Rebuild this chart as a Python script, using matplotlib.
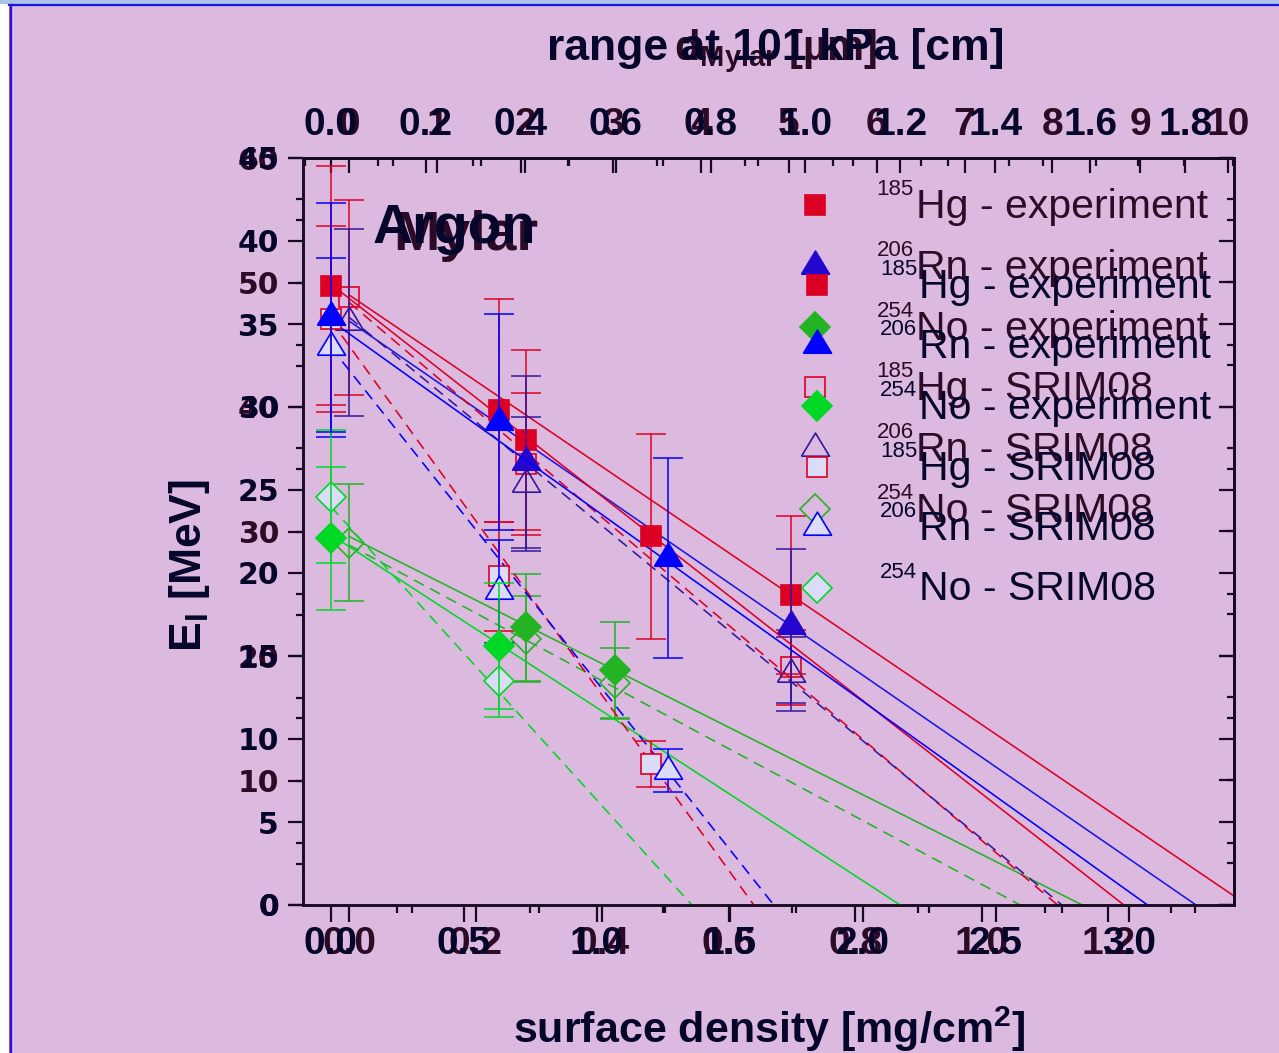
import matplotlib.pyplot as plt
from matplotlib.lines import Line2D
from matplotlib.patches import Rectangle
from matplotlib.ticker import MultipleLocator

plt.rcParams['mathtext.fontset'] = 'custom'
plt.rcParams['mathtext.rm'] = 'Liberation Sans'
plt.rcParams['mathtext.bf'] = 'Liberation Sans:bold'

# unit conversions for the top axes
ARGON_MG_PER_CM = 1.784   # argon at 101 kPa: mg/cm^2 per cm
MYLAR_MG_PER_UM = 0.139   # mylar: mg/cm^2 per micrometre

# ---- argon absorber (surface density in mg/cm^2, energy in MeV) ----
ar_hg_x = [0.0, 0.633, 1.203]
ar_hg_e = [37.3, 29.8, 22.2]
ar_hg_err = [7.2, 6.7, 6.2]
ar_rn_x = [0.0, 0.633, 1.266]
ar_rn_e = [35.4, 29.1, 20.9]
ar_rn_err = [6.9, 6.5, 6.0]
ar_no_x = [0.0, 0.633]
ar_no_e = [22.1, 15.6]
ar_no_err = [4.3, 3.8]

ar_hg_srim_e = [35.3, 19.8, 8.5]
ar_hg_srim_err = [5.6, 3.3, 1.4]
ar_rn_srim_e = [33.6, 18.9, 8.1]
ar_rn_srim_err = [5.4, 3.1, 1.3]
ar_no_srim_e = [24.6, 13.5]
ar_no_srim_err = [4.0, 2.2]

# linear fits: (x start, x end), (E start, E end)
ar_fit_hg = ([0.0, 2.981], [37.4, 0.0])
ar_fit_rn = ([0.0, 3.07], [35.2, 0.0])
ar_fit_no = ([0.0, 2.14], [22.3, 0.0])
ar_srim_fit_hg = ([0.0, 1.59], [35.2, 0.0])
ar_srim_fit_rn = ([0.0, 1.665], [33.6, 0.0])
ar_srim_fit_no = ([0.0, 1.357], [24.0, 0.0])

# ---- mylar absorber ----
my_hg_x = [0.279, 0.698]
my_hg_e = [37.35, 24.9]
my_hg_err = [7.2, 6.35]
my_rn_x = [0.279, 0.698]
my_rn_e = [35.6, 22.4]
my_rn_err = [6.9, 6.2]
my_no_x = [0.279, 0.42]
my_no_e = [22.3, 18.85]
my_no_err = [4.3, 3.85]

my_srim_x = [0.0, 0.279, 0.698]
my_hg_srim_e = [48.8, 35.4, 19.1]
my_hg_srim_err = [7.8, 5.7, 3.0]
my_rn_srim_e = [46.8, 33.8, 18.55]
my_rn_srim_err = [7.5, 5.4, 3.0]
my_no_srim_x = [0.0, 0.279, 0.42]
my_no_srim_e = [29.1, 21.4, 17.8]
my_no_srim_err = [4.7, 3.45, 2.85]

my_fit_hg = ([0.0, 1.42], [49.0, 0.0])
my_fit_rn = ([0.0, 1.339], [46.9, 0.0])
my_fit_no = ([0.0, 1.159], [29.6, 0.0])
my_srim_fit_hg = ([0.0, 1.12], [48.4, 0.0])
my_srim_fit_rn = ([0.0, 1.127], [47.2, 0.0])
my_srim_fit_no = ([0.0, 1.061], [28.9, 0.0])

# tick labels
ar_xticks = [0.0, 0.5, 1.0, 1.5, 2.0, 2.5, 3.0]
my_xticks = [0.0, 0.2, 0.4, 0.6, 0.8, 1.0, 1.2]
ar_yticks = [0, 5, 10, 15, 20, 25, 30, 35, 40, 45]
my_yticks = [0, 10, 20, 30, 40, 50, 60]
range_ticks = [0.0, 0.2, 0.4, 0.6, 0.8, 1.0, 1.2, 1.4, 1.6, 1.8]
um_ticks = [0, 1, 2, 3, 4, 5, 6, 7, 8, 9, 10]

legend_labels = [('185', 'Hg - experiment'), ('206', 'Rn - experiment'),
                 ('254', 'No - experiment'), ('185', 'Hg - SRIM08'),
                 ('206', 'Rn - SRIM08'), ('254', 'No - SRIM08')]

W, H = 1279, 1053
BG = '#dcb9df'
INK_AR = '#06062a'
INK_MY = '#2c0b26'
SPINE = '#170a22'
RED = '#dc0024'
FACE = '#dcdcf8'

fig = plt.figure(figsize=(W / 100, H / 100), dpi=100)
fig.patch.set_facecolor(BG)


def fx(px):
    return px / W


def fy(py):
    return 1 - py / H


# slide frame
fig.add_artist(Rectangle((0, fy(1053)), fx(9), fy(3) - fy(1053), transform=fig.transFigure,
                         facecolor='white', edgecolor='none'))
fig.add_artist(Rectangle((0, fy(3.5)), 1, fy(0) - fy(3.5), transform=fig.transFigure,
                         facecolor='#a9c5e6', edgecolor='none'))
fig.add_artist(Line2D([fx(9), 1], [fy(5), fy(5)], transform=fig.transFigure, color='#1a14e8', lw=1.6))
fig.add_artist(Line2D([fx(10.5), fx(10.5)], [fy(5), 0], transform=fig.transFigure, color='#1a14e8', lw=1.6))
fig.add_artist(Line2D([fx(9), fx(9)], [fy(5), 0], transform=fig.transFigure, color='#e03050', lw=0.6))

rect = [fx(303), fy(905), fx(1234) - fx(303), fy(158) - fy(905)]
ax_m = fig.add_axes(rect)
ax_a = fig.add_axes(rect)

# triangle centred on its centroid
TRI = [(-1, -0.55), (1, -0.55), (0, 1.1), (-1, -0.55)]
MS = {'s': 14.4, 'D': 14.8}
MS_TRI = 22.2
TK = 15 * 0.72
TKM = 7.5 * 0.72
LW_SP = 1.8


def msize(m):
    return MS_TRI if isinstance(m, list) else MS[m]


def series(ax, x, e, err, marker, color, face, ecolor):
    ax.errorbar(x, e, yerr=err, fmt='none', ecolor=ecolor, elinewidth=1.1,
                capsize=10.8, capthick=1.1, zorder=3)
    ax.plot(x, e, ls='none', marker=marker, ms=msize(marker), mfc=face, mec=color,
            mew=1.2, zorder=3)


def fit(ax, line, color, dashed):
    ls = (0, (7, 4.5)) if dashed else '-'
    ax.plot(line[0], line[1], color=color, lw=1.15, ls=ls, zorder=2)


def setup(ax, xlim, ylim, xticks, yticks, xminor, yminor, ink, top_fn, top_ticks, top_minor, top_fmt):
    ax.patch.set_alpha(0)
    ax.set_xlim(*xlim)
    ax.set_ylim(*ylim)
    for s in ax.spines.values():
        s.set_color(SPINE)
        s.set_linewidth(LW_SP)
    ax.set_xticks(xticks, [f'{t:.1f}' for t in xticks], family='Liberation Sans',
                  fontweight='bold', fontsize=28, color=ink)
    ax.set_yticks(yticks, [str(t) for t in yticks], family='DejaVu Sans',
                  fontweight='bold', fontsize=21.5, color=ink)
    ax.xaxis.set_minor_locator(MultipleLocator(xminor))
    ax.yaxis.set_minor_locator(MultipleLocator(yminor))
    ax.tick_params(axis='x', which='both', bottom=True, top=False, direction='out',
                   width=1.6, color=SPINE)
    ax.tick_params(axis='x', which='major', length=17 * 0.72, pad=3)
    ax.tick_params(axis='x', which='minor', length=8 * 0.72)
    ax.tick_params(axis='y', which='both', left=True, right=False, direction='out',
                   width=1.6, color=SPINE)
    ax.tick_params(axis='y', which='major', length=TK, pad=6.5)
    ax.tick_params(axis='y', which='minor', length=TKM)

    top = ax.secondary_xaxis('top', functions=top_fn)
    top.set_xticks(top_ticks, [top_fmt(t) for t in top_ticks], family='Liberation Sans',
                   fontweight='bold', fontsize=28, color=ink)
    top.xaxis.set_minor_locator(MultipleLocator(top_minor))
    top.tick_params(which='both', direction='in', width=1.6, color=SPINE)
    top.tick_params(which='major', length=TK, pad=10.5)
    top.tick_params(which='minor', length=TKM)
    top.spines['top'].set_linewidth(LW_SP)
    top.spines['top'].set_color(SPINE)

    right = ax.secondary_yaxis('right')
    right.set_yticks(yticks)
    right.yaxis.set_minor_locator(MultipleLocator(yminor))
    right.tick_params(which='both', direction='in', width=1.6, color=SPINE, labelright=False)
    right.tick_params(which='major', length=TK)
    right.tick_params(which='minor', length=TKM)
    right.spines['right'].set_linewidth(LW_SP)
    right.spines['right'].set_color(SPINE)


# ---------------- mylar (drawn underneath) ----------------
MY_BLUE = '#2506cf'
MY_BLUE2 = '#33179e'
MY_GREEN = '#22b422'
setup(ax_m, (-0.073, 1.399), (0, 60), my_xticks, my_yticks, 0.1, 5, INK_MY,
      (lambda s: s / MYLAR_MG_PER_UM, lambda d: d * MYLAR_MG_PER_UM), um_ticks, 0.5,
      lambda t: str(t))

fit(ax_m, my_fit_hg, RED, False)
fit(ax_m, my_fit_rn, '#1c16e2', False)
fit(ax_m, my_fit_no, MY_GREEN, False)
fit(ax_m, my_srim_fit_hg, RED, True)
fit(ax_m, my_srim_fit_rn, MY_BLUE2, True)
fit(ax_m, my_srim_fit_no, MY_GREEN, True)

series(ax_m, my_srim_x, my_hg_srim_e, my_hg_srim_err, 's', RED, 'none', RED)
series(ax_m, my_srim_x, my_rn_srim_e, my_rn_srim_err, TRI, MY_BLUE2, 'none', MY_BLUE2)
series(ax_m, my_no_srim_x, my_no_srim_e, my_no_srim_err, 'D', MY_GREEN, 'none', MY_GREEN)
series(ax_m, my_hg_x, my_hg_e, my_hg_err, 's', RED, RED, RED)
series(ax_m, my_rn_x, my_rn_e, my_rn_err, TRI, MY_BLUE, MY_BLUE, MY_BLUE2)
series(ax_m, my_no_x, my_no_e, my_no_err, 'D', MY_GREEN, MY_GREEN, MY_GREEN)

# ---------------- argon (drawn on top) ----------------
AR_BLUE = '#0000ff'
AR_GREEN = '#00d826'
setup(ax_a, (-0.105, 3.395), (0, 45), ar_xticks, ar_yticks, 0.25, 2.5, INK_AR,
      (lambda s: s / ARGON_MG_PER_CM, lambda r: r * ARGON_MG_PER_CM), range_ticks, 0.1,
      lambda t: f'{t:.1f}')

fit(ax_a, ar_fit_hg, RED, False)
fit(ax_a, ar_fit_rn, AR_BLUE, False)
fit(ax_a, ar_fit_no, AR_GREEN, False)
fit(ax_a, ar_srim_fit_hg, RED, True)
fit(ax_a, ar_srim_fit_rn, AR_BLUE, True)
fit(ax_a, ar_srim_fit_no, AR_GREEN, True)

series(ax_a, ar_hg_x, ar_hg_srim_e, ar_hg_srim_err, 's', RED, FACE, RED)
series(ax_a, ar_rn_x, ar_rn_srim_e, ar_rn_srim_err, TRI, AR_BLUE, FACE, AR_BLUE)
series(ax_a, ar_no_x, ar_no_srim_e, ar_no_srim_err, 'D', AR_GREEN, FACE, AR_GREEN)
series(ax_a, ar_hg_x, ar_hg_e, ar_hg_err, 's', RED, RED, RED)
series(ax_a, ar_rn_x, ar_rn_e, ar_rn_err, TRI, AR_BLUE, AR_BLUE, AR_BLUE)
series(ax_a, ar_no_x, ar_no_e, ar_no_err, 'D', AR_GREEN, AR_GREEN, AR_GREEN)

# ---------------- legends ----------------
my_leg = [('s', RED, RED), (TRI, MY_BLUE, MY_BLUE), ('D', MY_GREEN, MY_GREEN),
          ('s', RED, 'none'), (TRI, MY_BLUE2, 'none'), ('D', MY_GREEN, 'none')]
ar_leg = [('s', RED, RED), (TRI, AR_BLUE, AR_BLUE), ('D', AR_GREEN, AR_GREEN),
          ('s', RED, FACE), (TRI, AR_BLUE, FACE), ('D', AR_GREEN, FACE)]


def legend(entries, mx, y0, dy, tx, ink):
    for i, ((m, c, f), (iso, name)) in enumerate(zip(entries, legend_labels)):
        y = y0 + dy * i
        fig.add_artist(Line2D([fx(mx)], [fy(y)], transform=fig.transFigure, ls='none',
                              marker=m, ms=msize(m), mec=c, mfc=f, mew=1.2))
        fig.text(fx(tx), fy(y + 13), name, family='Liberation Sans', fontsize=29.5,
                 color=ink, ha='left', va='baseline')
        fig.text(fx(tx - 2), fy(y - 10), iso, family='Liberation Sans', fontsize=16,
                 color=ink, ha='right', va='baseline')


legend(my_leg, 815, 205, 60.8, 916, INK_MY)
legend(ar_leg, 817, 285, 60.5, 919, INK_AR)

# ---------------- titles and labels ----------------
fig.text(fx(393), fy(250), 'Mylar', family='Liberation Sans', fontweight='bold',
         fontsize=40, color=INK_MY, ha='left', va='baseline')
fig.text(fx(373), fy(243), 'Argon', family='Liberation Sans', fontweight='bold',
         fontsize=40, color=INK_AR, ha='left', va='baseline')

fig.text(fx(776), fy(60), r'd$_\mathbf{Mylar}$ [µm]', family='Liberation Sans',
         fontweight='bold', fontsize=30, color=INK_MY, ha='center', va='baseline')
fig.text(fx(776), fy(60), 'range at 101 kPa [cm]', family='Liberation Sans',
         fontweight='bold', fontsize=32, color=INK_AR, ha='center', va='baseline')

fig.text(fx(769), fy(1043), r'surface density [mg/cm$^\mathbf{2}$]', family='Liberation Sans',
         fontweight='bold', fontsize=31, color=INK_AR, ha='center', va='baseline')
fig.text(fx(190), fy(565), r'E$_\mathbf{I}$ [MeV]', family='Liberation Sans',
         fontweight='bold', fontsize=32, color=INK_AR, ha='center', va='center',
         rotation=90)

fig.savefig('out.png', dpi=100, facecolor=BG)
